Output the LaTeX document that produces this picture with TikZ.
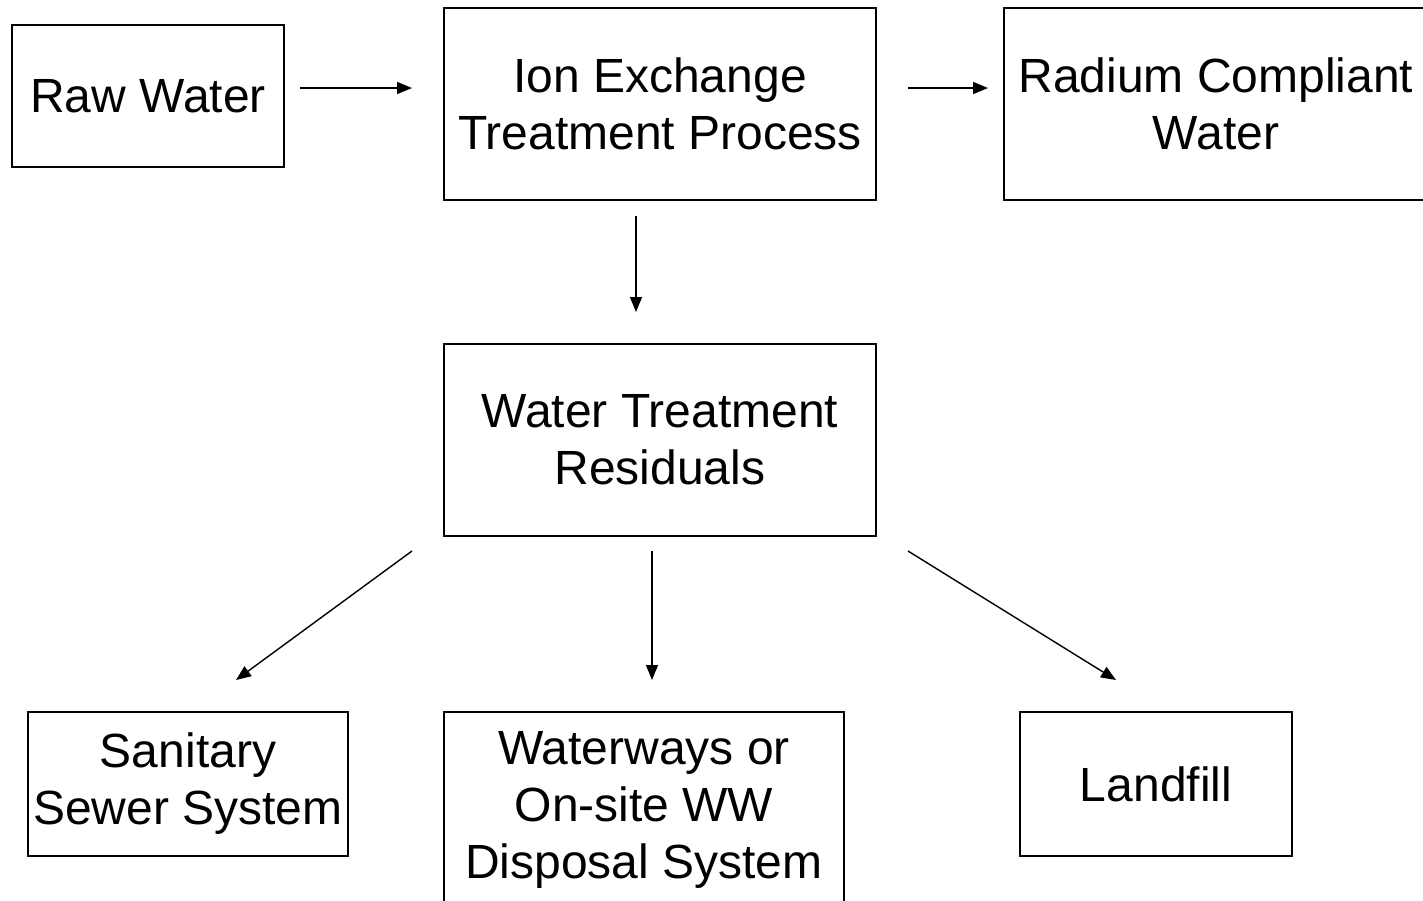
\documentclass[tikz,border=0pt]{standalone}
\usepackage{fontspec}
\setmainfont{Liberation Sans}
\usetikzlibrary{arrows.meta}
\begin{document}
\begin{tikzpicture}[x=1pt,y=-1pt,
  box/.style={draw,line width=1.6pt,inner sep=0pt,align=center,
    font=\fontsize{48}{57}\selectfont},
  arr/.style={line width=1.4pt,-{Triangle[length=15pt,width=12pt]}}]
\useasboundingbox (0,0) rectangle (1423,900);
\clip (0,0) rectangle (1423,900);
\node[box,minimum width=272pt,minimum height=142pt] (raw) at (148,96) {Raw Water};
\node[box,minimum width=432pt,minimum height=192pt] (ion) at (660,104) {Ion Exchange\\Treatment Process};
\node[box,minimum width=424pt,minimum height=192pt] (rad) at (1216,104) {Radium Compliant\\Water};
\node[box,minimum width=432pt,minimum height=192pt] (res) at (660,440) {Water Treatment\\Residuals};
\node[box,minimum width=320pt,minimum height=144pt] (san) at (188,784) {Sanitary\\Sewer System};
\node[box,minimum width=400pt,minimum height=196pt] (way) at (644,810) {Waterways or\\On-site WW\\Disposal System};
\node[box,minimum width=272pt,minimum height=144pt] (land) at (1156,784) {Landfill};
\coordinate (a1s) at (300,88); \coordinate (a1e) at (412,88);
\coordinate (a2s) at (908,88); \coordinate (a2e) at (988,88);
\coordinate (a3s) at (636,216); \coordinate (a3e) at (636,312);
\coordinate (a4s) at (412,551); \coordinate (a4e) at (236,680);
\coordinate (a5s) at (652,551); \coordinate (a5e) at (652,680);
\coordinate (a6s) at (908,551); \coordinate (a6e) at (1116,680);
\draw[arr] (a1s) -- (a1e);
\draw[arr] (a2s) -- (a2e);
\draw[arr] (a3s) -- (a3e);
\draw[arr] (a4s) -- (a4e);
\draw[arr] (a5s) -- (a5e);
\draw[arr] (a6s) -- (a6e);
\end{tikzpicture}
\end{document}
